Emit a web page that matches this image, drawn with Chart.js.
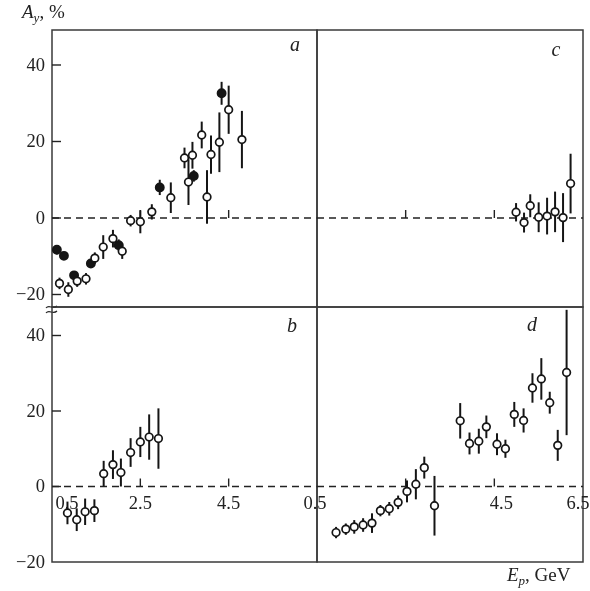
<!DOCTYPE html>
<html>
<head>
<meta charset="utf-8">
<script src="https://cdn.jsdelivr.net/npm/chart.js"></script>
<style>
  body { margin: 0; background: #fff; }
  #wrap { position: relative; width: 590px; height: 591px; overflow: hidden; }
  #wrap canvas { position: absolute; left: 0; top: 0; }
  .lbl { position: absolute; font-family: 'Liberation Serif', serif; font-size: 19px; color: #222; white-space: nowrap; }
  .lbl sub { font-size: 13px; vertical-align: -4px; }
</style>
</head>
<body>
<div id="wrap">
  <canvas id="pa" width="590" height="591"></canvas>
  <canvas id="pb" width="590" height="591"></canvas>
  <canvas id="pc" width="590" height="591"></canvas>
  <canvas id="pd" width="590" height="591"></canvas>
  <div class="lbl" style="left:22px; top:1px;"><i>A</i><sub><i>y</i></sub>, %</div>
  <div class="lbl" style="left:507px; top:564px;"><i>E</i><sub><i>p</i></sub>, GeV</div>
</div>

<script>
// panel a: open and filled points
var aOpenE = [0.67, 0.87, 1.07, 1.27, 1.47, 1.66, 1.88, 2.09, 2.28, 2.50, 2.76, 3.19, 3.50, 3.59, 3.68, 3.89, 4.01, 4.10, 4.29, 4.50, 4.80];
var aOpenA = [-17.1, -18.7, -16.5, -15.9, -10.5, -7.6, -5.4, -8.7, -0.7, -1.0, 1.6, 5.3, 15.7, 9.4, 16.4, 21.7, 5.5, 16.6, 19.8, 28.3, 20.5];
var aOpenErr = [1.5, 1.9, 1.5, 1.5, 1.5, 3.1, 2.3, 2.0, 1.5, 3.0, 2.0, 4.0, 2.7, 6.0, 3.5, 3.5, 7.0, 5.0, 7.8, 6.3, 7.5];

var aFullE = [0.61, 0.77, 1.00, 1.38, 2.01, 2.94, 3.71, 4.34];
var aFullA = [-8.3, -9.9, -15.0, -11.9, -7.1, 8.0, 11.0, 32.6];
var aFullErr = [1.2, 1.0, 0.8, 1.0, 1.5, 2.0, 1.5, 3.0];

// panel b
var bE = [0.85, 1.06, 1.25, 1.46, 1.67, 1.88, 2.06, 2.28, 2.50, 2.70, 2.91];
var bA = [-7.0, -8.8, -6.7, -6.4, 3.4, 5.8, 3.7, 9.0, 11.8, 13.1, 12.7];
var bErr = [3.0, 3.0, 3.5, 3.0, 3.4, 3.8, 3.7, 3.8, 4.0, 6.0, 8.0];

// panel c
var cE = [4.99, 5.17, 5.31, 5.50, 5.69, 5.87, 6.05, 6.22];
var cA = [1.5, -1.2, 3.2, 0.2, 0.5, 1.6, 0.1, 9.0];
var cErr = [2.4, 2.6, 3.0, 3.9, 4.8, 5.3, 6.4, 7.8];

// panel d
var dE = [0.93, 1.15, 1.34, 1.54, 1.74, 1.93, 2.13, 2.33, 2.53, 2.73, 2.92, 3.15, 3.73, 3.94, 4.15, 4.32, 4.56, 4.75, 4.95, 5.16, 5.36, 5.56, 5.75, 5.93, 6.13];
var dA = [-12.2, -11.3, -10.7, -10.2, -9.7, -6.4, -5.9, -4.2, -1.3, 0.6, 5.0, -5.1, 17.4, 11.4, 12.0, 15.8, 11.2, 10.0, 19.1, 17.5, 26.1, 28.5, 22.2, 10.9, 30.2];
var dErr = [1.5, 1.5, 1.8, 1.8, 2.6, 1.5, 1.8, 1.8, 2.9, 4.0, 2.9, 7.9, 4.7, 2.9, 3.3, 3.0, 2.9, 2.4, 3.3, 3.2, 3.9, 5.5, 2.9, 4.1, 16.6];

// axis ticks and labels
var yTicks = [40, 20, 0, -20];
var xTickMarks = [2.5, 4.5];
var xLabelsLeft = ['0.5', '2.5', '4.5'];
var xLabelsRight = ['0.5', '4.5', '6.5'];

var W = 590, H = 591;
var INK = '#151515', FRAME = '#3a3a3a';
var FONT = "'Liberation Serif', serif";

function pts(xs, ys, es) {
  return xs.map(function (x, i) { return { x: x, y: ys[i], err: es[i] }; });
}

function series(data, filled) {
  return {
    data: data,
    showLine: false,
    clip: false,
    pointRadius: filled ? 4.1 : 3.8,
    pointBorderWidth: 1.7,
    pointBorderColor: INK,
    pointBackgroundColor: filled ? INK : '#fff'
  };
}

// vertical error bars, under the markers
var errorBars = {
  id: 'errorBars',
  beforeDatasetsDraw: function (chart) {
    var ctx = chart.ctx, xs = chart.scales.x, ys = chart.scales.y;
    ctx.save();
    ctx.strokeStyle = INK;
    ctx.lineWidth = 2;
    chart.data.datasets.forEach(function (ds) {
      ds.data.forEach(function (p) {
        var px = xs.getPixelForValue(p.x);
        ctx.beginPath();
        ctx.moveTo(px, ys.getPixelForValue(p.y - p.err));
        ctx.lineTo(px, ys.getPixelForValue(p.y + p.err));
        ctx.stroke();
      });
    });
    ctx.restore();
  }
};

// frame, dashed zero line, ticks, labels
var decor = {
  id: 'decor',
  beforeDatasetsDraw: function (chart, args, o) {
    var ctx = chart.ctx, a = chart.chartArea, xs = chart.scales.x, ys = chart.scales.y;
    var zy = ys.getPixelForValue(0);
    ctx.save();

    ctx.strokeStyle = FRAME;
    ctx.lineWidth = 1.5;
    ctx.strokeRect(a.left, a.top, a.right - a.left, a.bottom - a.top);

    ctx.strokeStyle = '#222';
    ctx.lineWidth = 1.3;
    ctx.setLineDash([7, 5]);
    ctx.beginPath();
    ctx.moveTo(a.left, zy);
    ctx.lineTo(a.right, zy);
    ctx.stroke();
    ctx.setLineDash([]);

    ctx.lineWidth = 1.4;
    xTickMarks.forEach(function (v) {
      var px = xs.getPixelForValue(v);
      ctx.beginPath();
      ctx.moveTo(px, zy);
      ctx.lineTo(px, zy - 8);
      ctx.stroke();
    });

    ctx.fillStyle = '#222';
    ctx.font = '18.5px ' + FONT;

    if (o.leftAxis) {
      ctx.textAlign = 'right';
      ctx.textBaseline = 'middle';
      yTicks.forEach(function (v) {
        var py = ys.getPixelForValue(v);
        if (v > ys.min - 0.5 && py <= a.bottom + 1) {
          if (py < a.bottom - 1) {
            ctx.beginPath();
            ctx.moveTo(a.left, py);
            ctx.lineTo(a.left + 9, py);
            ctx.stroke();
          }
          ctx.fillText(v < 0 ? '\u2212' + Math.abs(v) : String(v), a.left - 7, py + 1);
        }
      });
    }

    if (o.xLabels) {
      ctx.textAlign = 'center';
      ctx.textBaseline = 'alphabetic';
      o.xLabels.forEach(function (t, i) {
        var px = xs.getPixelForValue(parseFloat(t)) + o.xShift[i];
        ctx.fillText(t, px, zy + 22);
      });
    }

    if (o.breakMark) {
      // axis break on the left side between the two rows
      ctx.strokeStyle = '#222';
      ctx.lineWidth = 1.2;
      [0, 5].forEach(function (dy) {
        var y0 = a.bottom + dy;
        ctx.beginPath();
        ctx.moveTo(a.left - 6, y0 + 1);
        ctx.bezierCurveTo(a.left - 3, y0 - 3, a.left + 1, y0 + 3, a.left + 5, y0 - 1);
        ctx.stroke();
      });
    }

    ctx.font = 'italic 20px ' + FONT;
    ctx.textAlign = 'center';
    ctx.textBaseline = 'middle';
    ctx.fillText(o.letter, o.letterPos[0], o.letterPos[1]);
    ctx.restore();
  }
};

function panel(id, box, yMin, yMax, datasets, opts) {
  return new Chart(document.getElementById(id), {
    type: 'scatter',
    data: { datasets: datasets },
    options: {
      responsive: false,
      animation: false,
      devicePixelRatio: 1,
      layout: { padding: { left: box[0], top: box[1], right: W - box[2], bottom: H - box[3] } },
      scales: {
        x: { type: 'linear', min: 0.5, max: 6.5, display: false },
        y: { type: 'linear', min: yMin, max: yMax, display: false }
      },
      plugins: {
        legend: { display: false },
        tooltip: { enabled: false },
        decor: opts
      },
      events: []
    },
    plugins: [decor, errorBars]
  });
}

var LEFT = 52, MID = 317, RIGHT = 583, TOP = 30, ROW = 307, BOTTOM = 562;
var TOP_MIN = -23.27, TOP_MAX = 49.15, BOT_MIN = -20, BOT_MAX = 47.55;

panel('pa', [LEFT, TOP, MID, ROW], TOP_MIN, TOP_MAX,
  [series(pts(aOpenE, aOpenA, aOpenErr), false), series(pts(aFullE, aFullA, aFullErr), true)],
  { letter: 'a', letterPos: [295, 46], leftAxis: true, breakMark: true });

panel('pc', [MID, TOP, RIGHT, ROW], TOP_MIN, TOP_MAX,
  [series(pts(cE, cA, cErr), false)],
  { letter: 'c', letterPos: [556, 51] });

panel('pb', [LEFT, ROW, MID, BOTTOM], BOT_MIN, BOT_MAX,
  [series(pts(bE, bA, bErr), false)],
  { letter: 'b', letterPos: [292, 327], leftAxis: true, xLabels: xLabelsLeft, xShift: [15, 0, 0] });

panel('pd', [MID, ROW, RIGHT, BOTTOM], BOT_MIN, BOT_MAX,
  [series(pts(dE, dA, dErr), false)],
  { letter: 'd', letterPos: [532, 326], xLabels: xLabelsRight, xShift: [-2, 7, -5] });
</script>
</body>
</html>
